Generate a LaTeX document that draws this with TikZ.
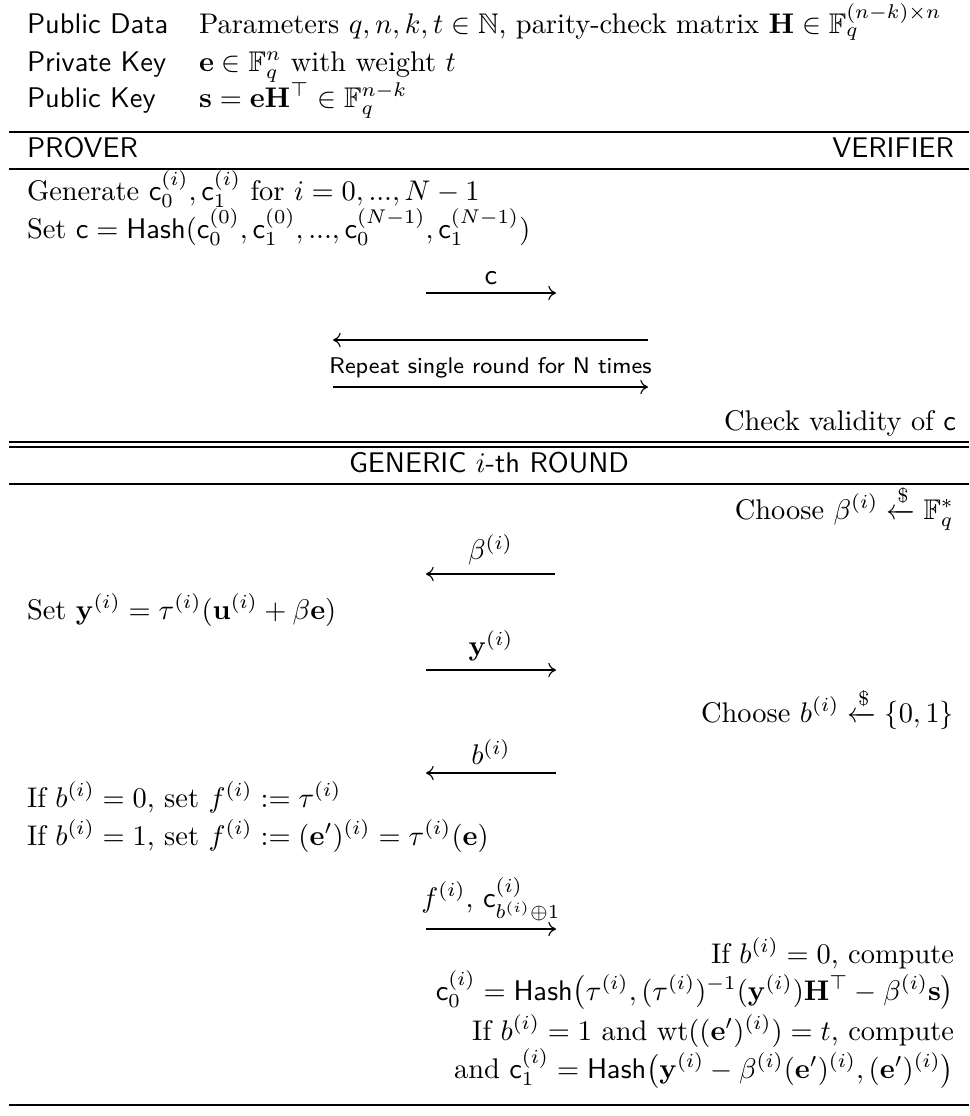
\documentclass[tikz,border=0pt]{standalone}
\usepackage{amsmath,amssymb}
\usetikzlibrary{arrows.meta}
\begin{document}
\begin{tikzpicture}[x=0.352pt,y=-0.352pt,
  txt/.style={inner sep=0pt, outer sep=0pt},
  lft/.style={txt, anchor=base west},
  rgt/.style={txt, anchor=base east},
  ctr/.style={txt, anchor=base},
  hrule/.style={line width=0.4pt},
  msg/.style={line width=0.4pt, -{Computer Modern Rightarrow[length=2.7pt, width=5pt]}},
  lbl/.style={inner sep=0pt, outer sep=0pt, above=3pt}]
\useasboundingbox (0,0) rectangle (969,1116);

% public data header
\node[lft] (pdk) at (27,33) {\textsf{Public Data}};
\node[lft] (pdv) at (199,33) {Parameters $q,n,k,t\in\mathbb{N}$, parity-check matrix $\mathbf{H}\in\mathbb{F}_q^{(n-k)\times n}$};
\node[lft] (skk) at (27,71) {\textsf{Private Key}};
\node[lft] (skv) at (199,71) {$\mathbf{e}\in\mathbb{F}_q^n$ with weight $t$};
\node[lft] (pkk) at (27,107) {\textsf{Public Key}};
\node[lft] (pkv) at (199,107) {$\mathbf{s}=\mathbf{e}\mathbf{H}^\top\in\mathbb{F}_q^{n-k}$};

\draw[hrule] (9,132) -- (969,132);
\node[lft] (prover) at (27,157) {\textsf{PROVER}};
\node[rgt] (verifier) at (954,157) {\textsf{VERIFIER}};
\draw[hrule] (9,169) -- (969,169);

% commitment phase
\node[lft] (gen) at (27,200) {Generate $\mathsf{c}_0^{(i)},\mathsf{c}_1^{(i)}$ for $i=0,...,N-1$};
\node[lft] (setc) at (27,238) {Set $\mathsf{c}=\mathsf{Hash}(\mathsf{c}_0^{(0)},\mathsf{c}_1^{(0)},...,\mathsf{c}_0^{(N-1)},\mathsf{c}_1^{(N-1)})$};

\coordinate (ca) at (426,293); \coordinate (cb) at (556,293);
\draw[msg] (ca) -- node[lbl] (cl) {$\mathsf{c}$} (cb);

\coordinate (ra) at (648,340); \coordinate (rb) at (333,340);
\draw[msg] (ra) -- (rb);

\coordinate (sa) at (333,387); \coordinate (sb) at (648,387);
\draw[msg] (sa) -- node[lbl] (sl) {\footnotesize\sffamily Repeat single round for N times} (sb);

\node[rgt] (chk) at (956,430) {Check validity of $\mathsf{c}$};

\draw[hrule] (9,442) -- (969,442);
\draw[hrule] (9,447) -- (969,447);
\node[ctr] (round) at (489,472) {\textsf{GENERIC $i$-th ROUND}};
\draw[hrule] (9,484) -- (969,484);

% generic round
\node[rgt] (chb) at (954,519) {Choose $\beta^{(i)}\xleftarrow{\$}\mathbb{F}_q^*$};

\coordinate (ba) at (555,574); \coordinate (bb) at (426,574);
\draw[msg] (ba) -- node[lbl] (bl) {$\beta^{(i)}$} (bb);

\node[lft] (sety) at (27,619) {Set $\mathbf{y}^{(i)}=\tau^{(i)}(\mathbf{u}^{(i)}+\beta\mathbf{e})$};

\coordinate (ya) at (426,670); \coordinate (yb) at (556,670);
\draw[msg] (ya) -- node[lbl] (yl) {$\mathbf{y}^{(i)}$} (yb);

\node[rgt] (chc) at (954,722) {Choose $b^{(i)}\xleftarrow{\$}\{0,1\}$};

\coordinate (bba) at (556,773); \coordinate (bbb) at (426,773);
\draw[msg] (bba) -- node[lbl] (bbl) {$b^{(i)}$} (bbb);

\node[lft] (if0) at (27,807) {If $b^{(i)}=0$, set $f^{(i)}:=\tau^{(i)}$};
\node[lft] (if1) at (27,845) {If $b^{(i)}=1$, set $f^{(i)}:=(\mathbf{e}')^{(i)}=\tau^{(i)}(\mathbf{e})$};

\coordinate (fa) at (426,929); \coordinate (fb) at (556,929);
\draw[msg] (fa) -- node[lbl] (fl) {$f^{(i)}$, $\mathsf{c}^{(i)}_{b^{(i)}\oplus 1}$} (fb);

\node[rgt] (v0) at (954,963) {If $b^{(i)}=0$, compute};
\node[rgt] (v0c) at (954,1000) {$\mathsf{c}_0^{(i)}=\mathsf{Hash}\big(\tau^{(i)},(\tau^{(i)})^{-1}(\mathbf{y}^{(i)})\mathbf{H}^\top-\beta^{(i)}\mathbf{s}\big)$};
\node[rgt] (v1) at (954,1040) {If $b^{(i)}=1$ and $\mathrm{wt}((\mathbf{e}')^{(i)})=t$, compute};
\node[rgt] (v1c) at (954,1078) {and $\mathsf{c}_1^{(i)}=\mathsf{Hash}\big(\mathbf{y}^{(i)}-\beta^{(i)}(\mathbf{e}')^{(i)},(\mathbf{e}')^{(i)}\big)$};

\draw[hrule] (9,1105) -- (969,1105);
\end{tikzpicture}
\end{document}
